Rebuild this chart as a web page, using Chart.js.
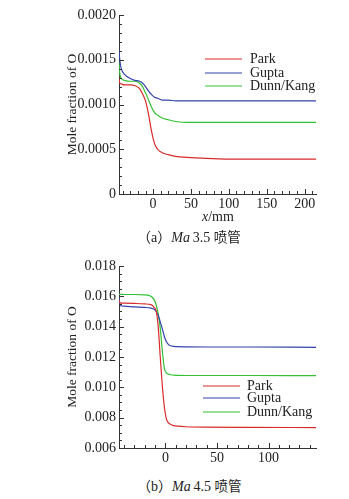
<!DOCTYPE html>
<html>
<head>
<meta charset="utf-8">
<script src="https://cdn.jsdelivr.net/npm/chart.js@4.4.1/dist/chart.umd.min.js"></script>
<style>
  html, body { margin:0; padding:0; background:#fff; }
  body { width:349px; height:499px; position:relative; overflow:hidden; font-family:"Liberation Serif","Times New Roman",serif; }
  .cv { position:absolute; left:0; }
  .txt { position:absolute; white-space:nowrap; color:#222; font-family:"Liberation Serif","Noto Sans CJK SC",serif; }
</style>
</head>
<body>
<div class="cv" style="top:0;width:349px;height:210px;"><canvas id="ca" width="349" height="210"></canvas></div>
<div class="cv" style="top:250px;width:349px;height:215px;"><canvas id="cb" width="349" height="215"></canvas></div>
<div class="txt" style="left:202px;top:209px;font-size:14px;"><i>x</i>/mm</div>
<div class="txt" style="left:137px;top:226px;font-size:14px;">（a）<i>Ma</i>&#8201;3.5 <span style="font-family:'Noto Sans CJK SC';font-size:13.5px;">喷管</span></div>
<div class="txt" style="left:137px;top:475px;font-size:14px;">（b）<i>Ma</i>&#8201;4.5 <span style="font-family:'Noto Sans CJK SC';font-size:13.5px;">喷管</span></div>
<script>
// ---------- Data: chart (a) Ma 3.5 ----------
const xA = [-45,-44,-42,-38,-30,-24,-18,-14,-10,-6,-2,2,6,12,20,30,45,65,100,150,215];
const parkA = [0.00130,0.00124,0.00123,0.00122,0.00122,0.00121,0.00118,0.00112,0.00104,0.00089,0.00070,0.00056,0.00050,0.00046,0.00044,0.00042,0.00041,0.00040,0.00039,0.00039,0.00039];
const guptaA = [0.00161,0.00150,0.00140,0.00134,0.00129,0.00127,0.00126,0.00124,0.00120,0.00115,0.00111,0.00108,0.00107,0.00105,0.00105,0.00104,0.00104,0.00104,0.00104,0.00104,0.00104];
const dunnA = [0.00148,0.00135,0.00129,0.00127,0.00126,0.00126,0.00124,0.00120,0.00113,0.00105,0.00097,0.00091,0.00088,0.00085,0.00083,0.00081,0.00080,0.00080,0.00080,0.00080,0.00080];
const xTicksA = [0,50,100,150,200];
const yTicksA = [0,0.0005,0.0010,0.0015,0.0020];
const yLabelsA = ["0","0.0005","0.0010","0.0015","0.0020"];

// ---------- Data: chart (b) Ma 4.5 ----------
const xB = [-45,-44,-40,-30,-20,-14,-11,-9,-7,-5,-3,-1,1,3,5,8,12,20,40,80,146];
const parkB = [0.01575,0.01557,0.01555,0.01553,0.01550,0.01545,0.01528,0.01505,0.01400,0.01200,0.01010,0.00870,0.00790,0.00765,0.00755,0.00748,0.00744,0.00740,0.00737,0.00736,0.00735];
const guptaB = [0.01590,0.01540,0.01535,0.01530,0.01527,0.01522,0.01515,0.01500,0.01475,0.01432,0.01385,0.01335,0.01300,0.01282,0.01274,0.01270,0.01268,0.01267,0.01266,0.01266,0.01264];
const dunnB = [0.01613,0.01613,0.01612,0.01612,0.01610,0.01600,0.01578,0.01545,0.01485,0.01390,0.01240,0.01125,0.01095,0.01087,0.01083,0.01081,0.01079,0.01078,0.01078,0.01078,0.01077];
const xTicksB = [0,50,100];
const yTicksB = [0.006,0.008,0.010,0.012,0.014,0.016,0.018];
const yLabelsB = ["0.006","0.008","0.010","0.012","0.014","0.016","0.018"];

const seriesNames = ["Park","Gupta","Dunn/Kang"];
const seriesColors = ["#d92b2b","#3343ad","#33c133"];

const FONT = "'Liberation Serif', 'Times New Roman', serif";
const AXIS = "#333";

// inward tick marks plugin (major + minor)
const tickPlugin = {
  id: 'inTicks',
  afterDatasetsDraw(chart, args, o) {
    const ctx = chart.ctx, x = chart.scales.x, y = chart.scales.y;
    const ca = chart.chartArea;
    ctx.save();
    ctx.strokeStyle = AXIS; ctx.lineWidth = 1;
    const drawX = (v, len) => {
      const p = Math.round(x.getPixelForValue(v)) + 0.5;
      ctx.beginPath(); ctx.moveTo(p, ca.bottom); ctx.lineTo(p, ca.bottom - len); ctx.stroke();
    };
    const drawY = (v, len) => {
      const p = Math.round(y.getPixelForValue(v)) + 0.5;
      ctx.beginPath(); ctx.moveTo(ca.left, p); ctx.lineTo(ca.left + len, p); ctx.stroke();
    };
    const xStart = Math.ceil(x.min / o.xMinor) * o.xMinor;
    for (let v = xStart; v <= x.max + 1e-9; v += o.xMinor) {
      const isMajor = Math.abs(v / o.xMajor - Math.round(v / o.xMajor)) < 1e-6;
      drawX(v, isMajor ? 5 : 3);
    }
    const n = Math.round((y.max - y.min) / o.yMinor);
    for (let i = 0; i <= n; i++) {
      const v = y.min + i * o.yMinor;
      const r = (v - y.min) / o.yMajor;
      const isMajor = Math.abs(r - Math.round(r)) < 1e-6;
      drawY(v, isMajor ? 5 : 3);
    }
    ctx.restore();
  }
};

// legend plugin
const legendPlugin = {
  id: 'customLegend',
  afterDatasetsDraw(chart, args, o) {
    const ctx = chart.ctx, ca = chart.chartArea;
    ctx.save();
    ctx.font = "14px " + FONT;
    ctx.textBaseline = 'middle';
    chart.data.datasets.forEach((ds, i) => {
      const yy = ca.top + o.rows[i];
      ctx.strokeStyle = ds.borderColor; ctx.lineWidth = 1.2;
      ctx.beginPath();
      ctx.moveTo(ca.left + o.x0, yy); ctx.lineTo(ca.left + o.x1, yy); ctx.stroke();
      ctx.fillStyle = '#222';
      ctx.fillText(ds.label, ca.left + o.tx, yy);
    });
    ctx.restore();
  }
};

function makeChart(id, xs, ys, xTicks, yTicks, yLabels, xmin, xmax, ymin, ymax, padTop, xAxisH, opts) {
  const datasets = ys.map((arr, i) => ({
    label: seriesNames[i],
    data: xs.map((xv, k) => ({ x: xv, y: arr[k] })),
    borderColor: seriesColors[i],
    borderWidth: 1.2,
    pointRadius: 0,
    cubicInterpolationMode: 'monotone',
    fill: false
  }));
  return new Chart(document.getElementById(id), {
    type: 'line',
    data: { datasets },
    plugins: [tickPlugin, legendPlugin],
    options: {
      responsive: false,
      animation: false,
      events: [],
      layout: { padding: { left: 60, right: 33, top: padTop, bottom: 0 } },
      plugins: {
        legend: { display: false },
        tooltip: { enabled: false },
        inTicks: opts.ticks,
        customLegend: opts.legend
      },
      scales: {
        x: {
          type: 'linear', min: xmin, max: xmax,
          grid: { display: false, drawTicks: false },
          border: { display: true, color: AXIS, width: 1 },
          afterBuildTicks: s => { s.ticks = xTicks.map(v => ({ value: v })); },
          afterFit: s => { s.height = xAxisH; },
          ticks: { color: '#222', font: { family: FONT, size: 14 }, padding: opts.xPad, maxRotation: 0,
                   callback: v => String(v) }
        },
        y: {
          type: 'linear', min: ymin, max: ymax,
          grid: { display: false, drawTicks: false },
          border: { display: true, color: AXIS, width: 1 },
          afterBuildTicks: s => { s.ticks = yTicks.map(v => ({ value: v })); },
          afterFit: s => { s.width = 59; },
          ticks: { color: '#222', font: { family: FONT, size: 14 }, padding: 3,
                   callback: (v) => { const k = yTicks.findIndex(t => Math.abs(t - v) < 1e-9); return k >= 0 ? yLabels[k] : ''; } },
          title: { display: true, text: 'Mole fraction of O', color: '#222', font: { family: FONT, size: 13.5 }, padding: { top: 4, bottom: 4 } }
        }
      }
    }
  });
}

makeChart('ca', xA, [parkA, guptaA, dunnA], xTicksA, yTicksA, yLabelsA, -45, 215, 0, 0.0020, 15, 16,
  { xPad: 2, ticks: { xMinor: 10, xMajor: 50, yMinor: 0.0001, yMajor: 0.0005 },
    legend: { x0: 86, x1: 123, tx: 131, rows: [44, 58, 71] } });
makeChart('cb', xB, [parkB, guptaB, dunnB], xTicksB, yTicksB, yLabelsB, -45, 146, 0.006, 0.018, 16, 17,
  { xPad: 2, ticks: { xMinor: 10, xMajor: 50, yMinor: 0.0005, yMajor: 0.002 },
    legend: { x0: 84, x1: 121, tx: 128, rows: [120, 132, 146] } });
</script>
</body>
</html>
